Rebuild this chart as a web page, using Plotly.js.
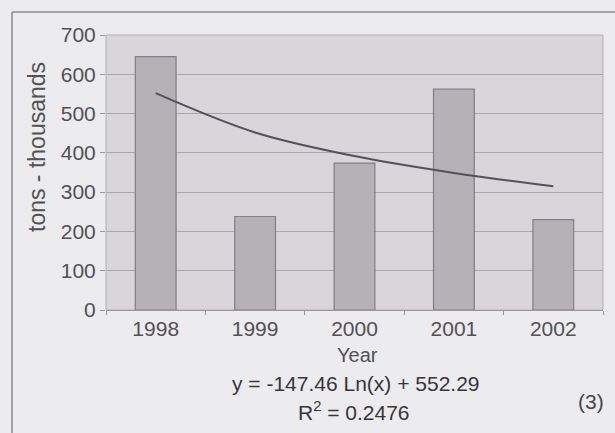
<!DOCTYPE html>
<html>
<head>
<meta charset="utf-8">
<script src="https://cdn.plot.ly/plotly-3.0.1.min.js"></script>
<style>
html,body{margin:0;padding:0;background:#ecebed;}
#chart{width:615px;height:433px;}
</style>
</head>
<body>
<div id="chart"></div>
<script>
const years = ["1998", "1999", "2000", "2001", "2002"];
const tonsThousands = [645, 238, 374, 562, 230];
const trendValues = [552, 452, 392, 349, 315];
const yTicks = [0, 100, 200, 300, 400, 500, 600, 700];
const equationText = "y = -147.46 Ln(x) + 552.29";
const r2Text = "R<sup>2</sup> = 0.2476";

const W = 615, H = 433;
const M = {l: 106, r: 12, t: 35, b: 123};
const pw = W - M.l - M.r, ph = H - M.t - M.b;
const px = x => (x - M.l) / pw;
const py = y => (H - M.b - y) / ph;

const font = "Liberation Sans, Arial, sans-serif";

const traces = [
  {
    type: "bar",
    x: years,
    y: tonsThousands,
    marker: {color: "#b4b1b7", line: {color: "#827d87", width: 1.2}},
    hoverinfo: "x+y"
  },
  {
    type: "scatter",
    mode: "lines",
    x: years,
    y: trendValues,
    line: {color: "#55505a", width: 2, shape: "spline", smoothing: 1},
    hoverinfo: "skip"
  }
];

const layout = {
  width: W, height: H,
  margin: M,
  paper_bgcolor: "#ecebed",
  plot_bgcolor: "#d8d6da",
  showlegend: false,
  bargap: 0.59,
  font: {family: font, size: 21, color: "#535056"},
  xaxis: {
    type: "category",
    tickson: "boundaries",
    ticks: "outside", ticklen: 4, tickcolor: "#9a97a0",
    showgrid: false,
    showline: true, linecolor: "#9a97a0", linewidth: 1,
    tickfont: {size: 21, color: "#535056"},
    fixedrange: true
  },
  yaxis: {
    range: [0, 700],
    tickvals: yTicks,
    ticks: "outside", ticklen: 5, tickcolor: "#9a97a0",
    gridcolor: "#a9a6ac", gridwidth: 1,
    zeroline: false,
    showline: false,
    tickfont: {size: 21, color: "#535056"},
    fixedrange: true
  },
  shapes: [
    {type: "line", xref: "paper", yref: "paper", x0: px(12), x1: px(615), y0: py(12), y1: py(12),
     line: {color: "#8e8996", width: 1.5}},
    {type: "line", xref: "paper", yref: "paper", x0: px(12), x1: px(12), y0: py(12), y1: py(433),
     line: {color: "#8e8996", width: 1.5}},
    {type: "rect", xref: "paper", yref: "paper", x0: 0, x1: 1, y0: 0, y1: 1,
     line: {color: "#b3b0b6", width: 1}, layer: "below"}
  ],
  annotations: [
    {text: "tons - thousands", xref: "paper", yref: "paper", x: px(37), y: py(147),
     showarrow: false, textangle: -90, font: {size: 23, color: "#535056"},
     xanchor: "center", yanchor: "middle"},
    {text: "Year", xref: "paper", yref: "paper", x: px(357), y: py(355),
     showarrow: false, font: {size: 20, color: "#535056"}, xanchor: "center", yanchor: "middle"},
    {text: equationText, xref: "paper", yref: "paper", x: px(356), y: py(383),
     showarrow: false, font: {size: 21, color: "#38353b"}, xanchor: "center", yanchor: "middle"},
    {text: r2Text, xref: "paper", yref: "paper", x: px(354), y: py(411),
     showarrow: false, font: {size: 21, color: "#38353b"}, xanchor: "center", yanchor: "middle"},
    {text: "(3)", xref: "paper", yref: "paper", x: px(591), y: py(401),
     showarrow: false, font: {size: 21, color: "#48454b"}, xanchor: "center", yanchor: "middle"}
  ]
};

Plotly.newPlot("chart", traces, layout, {displayModeBar: false, staticPlot: true});
</script>
</body>
</html>
